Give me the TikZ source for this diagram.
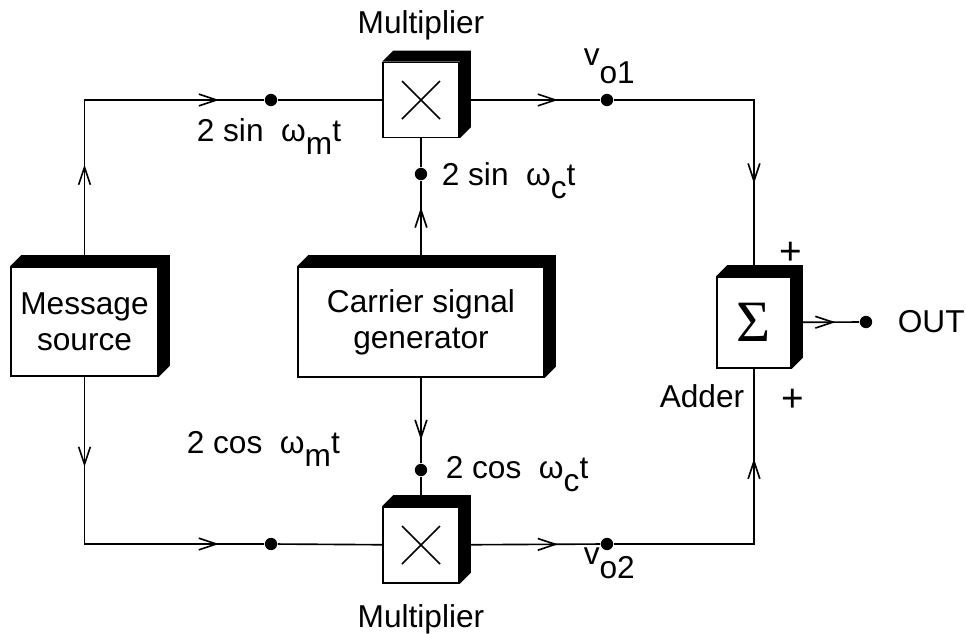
\documentclass[tikz,border=0pt]{standalone}
\usepackage{fontspec}
\setmainfont{Liberation Sans}
\newfontfamily\sigfont{Liberation Serif}
\usetikzlibrary{arrows.meta,decorations.markings,calc}

\begin{document}
\begin{tikzpicture}[
  x=0.03cm, y=-0.03cm,
  font=\fontsize{27}{31}\selectfont,
  line width=1.4pt,
  block/.style={draw, fill=white, inner sep=0pt, align=center},
  dot/.style={circle, fill, inner sep=0pt, minimum size=0.37cm},
  tipat/.style={postaction={decorate, decoration={markings, mark=at position #1 with {\arrow{Straight Barb[length=15pt, width=10pt]}}}}},
  lab/.style={inner sep=0pt},
  sign/.style={lab, font=\fontsize{33}{33}\selectfont},
]
\useasboundingbox (0,0) rectangle (966,633);
% blocks
\node[block, minimum width=4.41cm, minimum height=3.27cm] (msg) at (84.5,321.5) {Message\\source};
\node[block, minimum width=7.38cm, minimum height=3.3cm] (car) at (421,322) {Carrier signal\\generator};
\node[block, minimum width=2.28cm, minimum height=2.25cm] (mul1) at (421,100) {};
\node[block, minimum width=2.28cm, minimum height=2.28cm] (mul2) at (421,545) {};
\node[block, minimum width=2.22cm, minimum height=2.73cm] (add) at (754,322.5) {\fontsize{50}{50}\selectfont\sigfont Σ};
% extrusions
\foreach \b in {msg,car,mul1,mul2,add}
  \fill (\b.north west) -- ++(11,-11) -- ($(\b.north east)+(11,-11)$) -- ($(\b.south east)+(11,-11)$) -- (\b.south east) -- (\b.north east) -- cycle;
\foreach \b in {mul1,mul2}
  \draw ($(\b)+(-19,-19)$) -- ($(\b)+(19,19)$) ($(\b)+(-19,19)$) -- ($(\b)+(19,-19)$);
% junctions
\node[dot] (d1) at (271,100) {};
\node[dot] (d2) at (607,100) {};
\node[dot] (d3) at (421,174) {};
\node[dot] (d4) at (421,470) {};
\node[dot] (d5) at (271,544) {};
\node[dot] (d6) at (607,544) {};
\node[dot] (dout) at (866,322) {};
% wires
\draw[tipat=0.294, tipat=0.87] (msg.north) |- (d1);
\draw (d1) -- (mul1);
\draw[tipat=0.70] (mul1) -- (d2);
\draw[tipat=0.707] (d2) -| (add);
\draw[tipat=0.69] (car) -- (d3);
\draw (d3) -- (mul1);
\draw[tipat=0.73] (car) -- (d4);
\draw (d4) -- (mul2);
\draw[tipat=0.26, tipat=0.87] (msg.south) |- (d5);
\draw (d5) -- (mul2);
\draw[tipat=0.70] (mul2) -- (d6);
\draw[tipat=0.715] (d6) -| (add);
\draw[tipat=0.65] (add) -- (dout);
% labels
\node[lab, anchor=base] (mlab1) at (421,33) {Multiplier};
\node[lab, anchor=base] (mlab2) at (421,627) {Multiplier};
\node[lab, anchor=base west] (sinm) at (196,141) {2 sin\ \ ω\raisebox{-0.42em}{m}t};
\node[lab, anchor=base west] (sinc) at (441,185) {2 sin\ \ ω\raisebox{-0.42em}{c}t};
\node[lab, anchor=base west] (cosc) at (445,478) {2 cos\ \ ω\raisebox{-0.42em}{c}t};
\node[lab, anchor=base west] (cosm) at (186,453) {2 cos\ \ ω\raisebox{-0.42em}{m}t};
\node[lab, anchor=base west] (vo1) at (583,65) {v\raisebox{-0.6em}{o1}};
\node[lab, anchor=base west] (vo2) at (583,564) {v\raisebox{-0.45em}{o2}};
\node[sign] (plus1) at (791,253) {+};
\node[sign] (plus2) at (793,400) {+};
\node[lab, anchor=base east] (addlab) at (745,407) {Adder};
\node[lab, anchor=west] (outlab) at (897,322) {OUT};
\end{tikzpicture}
\end{document}
